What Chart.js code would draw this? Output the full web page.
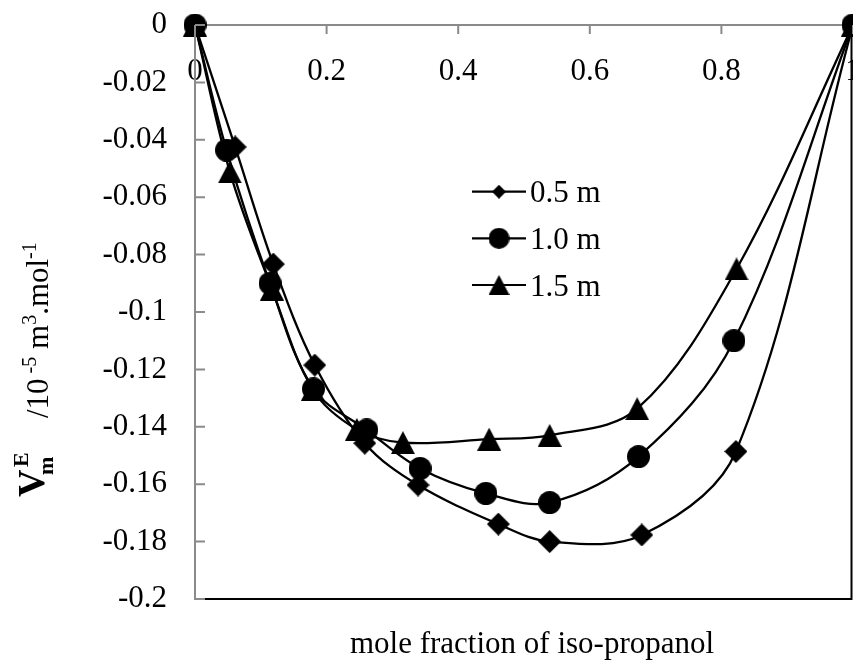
<!DOCTYPE html>
<html><head><meta charset="utf-8">
<script src="https://cdn.jsdelivr.net/npm/chart.js@4.4.1/dist/chart.umd.min.js"></script>
<style>html,body{margin:0;padding:0;background:#fff;}canvas{display:block;}</style>
</head><body>
<canvas id="c" width="853" height="661"></canvas>
<script>
// ---- data ----
const seriesLabels = ['0.5 m', '1.0 m', '1.5 m'];
const x05 = [0, 0.061, 0.119, 0.182, 0.258, 0.339, 0.461, 0.539, 0.679, 0.822, 1];
const y05 = [0, -0.0425, -0.0833, -0.1185, -0.1457, -0.1603, -0.1739, -0.1800, -0.1777, -0.1486, 0];
const x10 = [0, 0.048, 0.114, 0.180, 0.261, 0.342, 0.442, 0.539, 0.674, 0.819, 1];
const y10 = [0, -0.0436, -0.0900, -0.1268, -0.1411, -0.1545, -0.1632, -0.1664, -0.1504, -0.1100, 0];
const x15 = [0, 0.053, 0.117, 0.179, 0.246, 0.316, 0.447, 0.539, 0.672, 0.823, 1];
const y15 = [0, -0.0512, -0.0920, -0.1270, -0.1409, -0.1455, -0.1443, -0.1430, -0.1337, -0.0850, 0];
const xTickValues = [0, 0.2, 0.4, 0.6, 0.8, 1];
const xTickLabels = ['0', '0.2', '0.4', '0.6', '0.8', '1'];
const yTickValues = [0, -0.02, -0.04, -0.06, -0.08, -0.1, -0.12, -0.14, -0.16, -0.18, -0.2];
const yTickLabels = ['0', '-0.02', '-0.04', '-0.06', '-0.08', '-0.1', '-0.12', '-0.14', '-0.16', '-0.18', '-0.2'];
const xTitle = 'mole fraction of iso-propanol';

// ---- styles ----
const FONT = "'Liberation Serif', 'Times New Roman', serif";
const GRAY = '#8a8a8a';

function shape(kind, w, h) {
  const c = document.createElement('canvas');
  c.width = w; c.height = h;
  const g = c.getContext('2d');
  g.fillStyle = '#000';
  g.beginPath();
  if (kind === 'diamond') {
    g.moveTo(w / 2, 0); g.lineTo(w, h / 2); g.lineTo(w / 2, h); g.lineTo(0, h / 2);
  } else if (kind === 'triangle') {
    g.moveTo(w / 2, 0); g.lineTo(w, h); g.lineTo(0, h);
  } else {
    g.arc(w / 2, h / 2, w / 2, 0, Math.PI * 2);
  }
  g.closePath(); g.fill();
  return c;
}
const dataMarkers = [shape('diamond', 23, 23), shape('circle', 23, 23), shape('triangle', 24, 23)];
const legendMarkers = [shape('diamond', 14, 14), shape('circle', 21, 21), shape('triangle', 21, 20)];

function pts(xs, ys) { return xs.map((x, i) => ({ x: x, y: ys[i] })); }
function lbl(values, labels, v) {
  const i = values.findIndex(t => Math.abs(t - v) < 1e-9);
  return i >= 0 ? labels[i] : '';
}

const extras = {
  id: 'extras',
  afterDraw(chart) {
    const ctx = chart.ctx;
    const a = chart.chartArea;
    const xs = chart.scales.x, ys = chart.scales.y;
    ctx.save();
    // plot area border (bottom, right)
    ctx.strokeStyle = '#000';
    ctx.lineWidth = 2;
    ctx.beginPath();
    ctx.moveTo(a.left, a.bottom); ctx.lineTo(a.right - 1.5, a.bottom); ctx.lineTo(a.right - 1.5, a.top);
    ctx.stroke();
    // inward tick marks
    ctx.strokeStyle = GRAY;
    ctx.lineWidth = 2;
    ctx.beginPath();
    xTickValues.forEach(v => {
      if (v === 0) return;
      const px = xs.getPixelForValue(v);
      ctx.moveTo(px, a.top); ctx.lineTo(px, a.top + 9);
    });
    yTickValues.forEach(v => {
      const py = ys.getPixelForValue(v);
      ctx.moveTo(a.left, py); ctx.lineTo(a.left + 10, py);
    });
    ctx.stroke();
    ctx.beginPath();
    ctx.moveTo(a.left, a.top); ctx.lineTo(a.left, a.bottom + 1);
    ctx.stroke();

    // legend
    ctx.fillStyle = '#000';
    ctx.strokeStyle = '#000';
    ctx.font = '31px ' + FONT;
    ctx.textBaseline = 'alphabetic';
    ctx.textAlign = 'left';
    const lineYs = [191.7, 238.3, 285];
    const baseYs = [202, 249, 296];
    seriesLabels.forEach((s, i) => {
      ctx.lineWidth = 2.2;
      ctx.beginPath();
      ctx.moveTo(472, lineYs[i]); ctx.lineTo(526, lineYs[i]);
      ctx.stroke();
      const m = legendMarkers[i];
      ctx.drawImage(m, 499 - m.width / 2, lineYs[i] - m.height / 2);
      ctx.fillText(s, 530, baseYs[i]);
    });

    // x title
    ctx.textAlign = 'center';
    ctx.font = '31px ' + FONT;
    ctx.fillText(xTitle, 532, 653);

    // y title (rotated)
    ctx.save();
    ctx.translate(44, 497);
    ctx.rotate(-Math.PI / 2);
    ctx.textAlign = 'left';
    ctx.font = 'bold 38px ' + FONT;
    ctx.fillText('V', 0, 0);
    ctx.font = 'bold 22px ' + FONT;
    ctx.fillText('E', 30, -16);
    ctx.fillText('m', 22, 9);
    ctx.restore();

    ctx.save();
    ctx.translate(48, 418);
    ctx.rotate(-Math.PI / 2);
    ctx.textAlign = 'left';
    let x = 0;
    const parts = [
      ['/10', 31, 0], [' -5', 20, -12], [' m', 31, 0], ['3', 20, -12], ['.mol', 31, 0], ['-1', 20, -12]
    ];
    parts.forEach(p => {
      ctx.font = p[1] + 'px ' + FONT;
      ctx.fillText(p[0], x, p[2]);
      x += ctx.measureText(p[0]).width;
    });
    ctx.restore();

    ctx.restore();
  }
};

const mk = (i, xs, ys) => ({
  label: seriesLabels[i],
  data: pts(xs, ys),
  borderColor: '#000',
  backgroundColor: '#000',
  borderWidth: 2.3,
  tension: 0.35,
  pointStyle: dataMarkers[i],
  pointRadius: 11,
  clip: false,
  fill: false
});

new Chart(document.getElementById('c'), {
  type: 'scatter',
  data: {
    datasets: [mk(0, x05, y05), mk(1, x10, y10), mk(2, x15, y15)]
  },
  options: {
    responsive: false,
    animation: false,
    devicePixelRatio: 1,
    showLine: true,
    layout: { autoPadding: false, padding: { left: 0, right: 0, top: 0, bottom: 62 } },
    plugins: { legend: { display: false }, tooltip: { enabled: false } },
    scales: {
      x: {
        type: 'linear', position: 'top', min: 0, max: 1,
        afterBuildTicks: s => { s.ticks = xTickValues.map(v => ({ value: v })); },
        ticks: {
          mirror: true, padding: 28, autoSkip: false, maxRotation: 0, minRotation: 0,
          color: '#000', font: { family: FONT, size: 31 },
          callback: v => lbl(xTickValues, xTickLabels, v)
        },
        grid: { display: false, drawTicks: false },
        border: { display: true, color: GRAY, width: 2 },
        afterFit: s => { s.height = 25; s.paddingLeft = 0; s.paddingRight = 0; }
      },
      y: {
        type: 'linear', position: 'left', min: -0.2, max: 0,
        afterBuildTicks: s => { s.ticks = yTickValues.slice().reverse().map(v => ({ value: v })); },
        ticks: {
          padding: 28, autoSkip: false,
          color: '#000', font: { family: FONT, size: 31 },
          callback: v => lbl(yTickValues, yTickLabels, v)
        },
        grid: { display: false, drawTicks: false },
        border: { display: true, color: GRAY, width: 2 },
        afterFit: s => { s.width = 195; s.paddingTop = 0; s.paddingBottom = 0; }
      }
    }
  },
  plugins: [extras]
});
</script>
</body></html>
